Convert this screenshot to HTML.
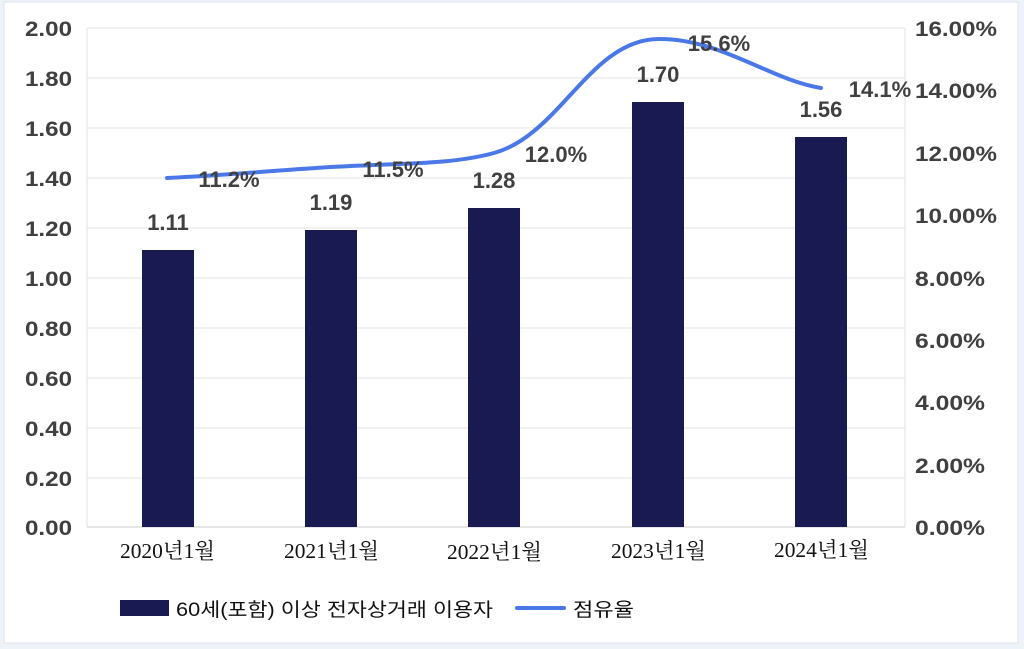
<!DOCTYPE html>
<html><head><meta charset="utf-8"><style>
html,body{margin:0;padding:0;background:#eef2f9;}
svg{display:block}
</style></head><body>
<svg width="1024" height="649" xmlns="http://www.w3.org/2000/svg">
<rect x="0" y="0" width="1024" height="649" fill="#eef2f9"/>
<rect x="4" y="2" width="1014" height="641" fill="#fff" stroke="#dde3ec"/>
<g stroke="#e3e3e3" stroke-width="1">
<line x1="87" x2="905" y1="28" y2="28"/><line x1="87" x2="905" y1="78" y2="78"/>
<line x1="87" x2="905" y1="128" y2="128"/><line x1="87" x2="905" y1="178" y2="178"/>
<line x1="87" x2="905" y1="228" y2="228"/><line x1="87" x2="905" y1="278" y2="278"/>
<line x1="87" x2="905" y1="328" y2="328"/><line x1="87" x2="905" y1="378" y2="378"/>
<line x1="87" x2="905" y1="428" y2="428"/><line x1="87" x2="905" y1="478" y2="478"/>
<line x1="87" x2="87" y1="28" y2="527"/><line x1="905" x2="905" y1="28" y2="527"/>
</g>
<line x1="87" x2="905" y1="527" y2="527" stroke="#ccc"/>
<g font-family="Liberation Sans, sans-serif" font-weight="bold" font-size="21" fill="#404040">
<text x="25" y="36" textLength="47" lengthAdjust="spacingAndGlyphs">2.00</text><text x="25" y="86" textLength="47" lengthAdjust="spacingAndGlyphs">1.80</text><text x="25" y="136" textLength="47" lengthAdjust="spacingAndGlyphs">1.60</text>
<text x="25" y="186" textLength="47" lengthAdjust="spacingAndGlyphs">1.40</text><text x="25" y="236" textLength="47" lengthAdjust="spacingAndGlyphs">1.20</text><text x="25" y="286" textLength="47" lengthAdjust="spacingAndGlyphs">1.00</text>
<text x="25" y="336" textLength="47" lengthAdjust="spacingAndGlyphs">0.80</text><text x="25" y="386" textLength="47" lengthAdjust="spacingAndGlyphs">0.60</text><text x="25" y="436" textLength="47" lengthAdjust="spacingAndGlyphs">0.40</text>
<text x="25" y="486" textLength="47" lengthAdjust="spacingAndGlyphs">0.20</text><text x="25" y="535" textLength="47" lengthAdjust="spacingAndGlyphs">0.00</text>
</g>
<g font-family="Liberation Sans, sans-serif" font-weight="bold" font-size="21" fill="#404040">
<text x="915" y="36" textLength="82" lengthAdjust="spacingAndGlyphs">16.00%</text><text x="915" y="98" textLength="82" lengthAdjust="spacingAndGlyphs">14.00%</text><text x="915" y="161" textLength="82" lengthAdjust="spacingAndGlyphs">12.00%</text>
<text x="915" y="223" textLength="82" lengthAdjust="spacingAndGlyphs">10.00%</text><text x="915" y="286" textLength="70" lengthAdjust="spacingAndGlyphs">8.00%</text><text x="915" y="348" textLength="70" lengthAdjust="spacingAndGlyphs">6.00%</text>
<text x="915" y="410" textLength="70" lengthAdjust="spacingAndGlyphs">4.00%</text><text x="915" y="473" textLength="70" lengthAdjust="spacingAndGlyphs">2.00%</text><text x="915" y="535" textLength="70" lengthAdjust="spacingAndGlyphs">0.00%</text>
</g>
<g fill="#1a1a52">
<rect x="142" y="250" width="52" height="277"/>
<rect x="305" y="230" width="52" height="297"/>
<rect x="468" y="208" width="52" height="319"/>
<rect x="632" y="102" width="52" height="425"/>
<rect x="795" y="137" width="52" height="390"/>
</g>
<g font-family="Liberation Sans, sans-serif" font-weight="bold" font-size="22" fill="#404040" text-anchor="middle">
<text x="168" y="230">1.11</text><text x="331" y="210">1.19</text><text x="494" y="188">1.28</text>
<text x="658" y="82">1.70</text><text x="821" y="117">1.56</text>
</g>
<path d="M167,178 C230,175 280,170 331,167 C400,163 450,165 494,153 C560,135 590,40 658,39 C720,38 770,80 821,88" fill="none" stroke="#4a78e8" stroke-width="4" stroke-linecap="round"/>
<g font-family="Liberation Sans, sans-serif" font-weight="bold" font-size="22" fill="#404040" text-anchor="middle">
<text x="229" y="187">11.2%</text><text x="393" y="177">11.5%</text><text x="556" y="162">12.0%</text>
<text x="719" y="51">15.6%</text><text x="880" y="97">14.1%</text>
</g>
<g font-family="Liberation Serif, 'Noto Serif CJK SC', serif" font-size="21" fill="#111">
<text x="120" y="558" textLength="95" lengthAdjust="spacingAndGlyphs">2020년1월</text><text x="284" y="558" textLength="95" lengthAdjust="spacingAndGlyphs">2021년1월</text><text x="447" y="559" textLength="95" lengthAdjust="spacingAndGlyphs">2022년1월</text>
<text x="611" y="558" textLength="95" lengthAdjust="spacingAndGlyphs">2023년1월</text><text x="774" y="557" textLength="95" lengthAdjust="spacingAndGlyphs">2024년1월</text>
</g>
<rect x="120" y="600" width="49" height="16" fill="#1a1a52"/>
<text x="176" y="616" font-family="Liberation Sans, 'Noto Sans CJK KR', sans-serif" font-size="19" fill="#111" textLength="317" lengthAdjust="spacingAndGlyphs">60세(포함) 이상 전자상거래 이용자</text>
<line x1="517" x2="564" y1="608" y2="608" stroke="#4a78e8" stroke-width="4" stroke-linecap="round"/>
<text x="573" y="616" font-family="Liberation Sans, 'Noto Sans CJK KR', sans-serif" font-size="19" fill="#111" textLength="61" lengthAdjust="spacingAndGlyphs">점유율</text>
</svg>
</body></html>
